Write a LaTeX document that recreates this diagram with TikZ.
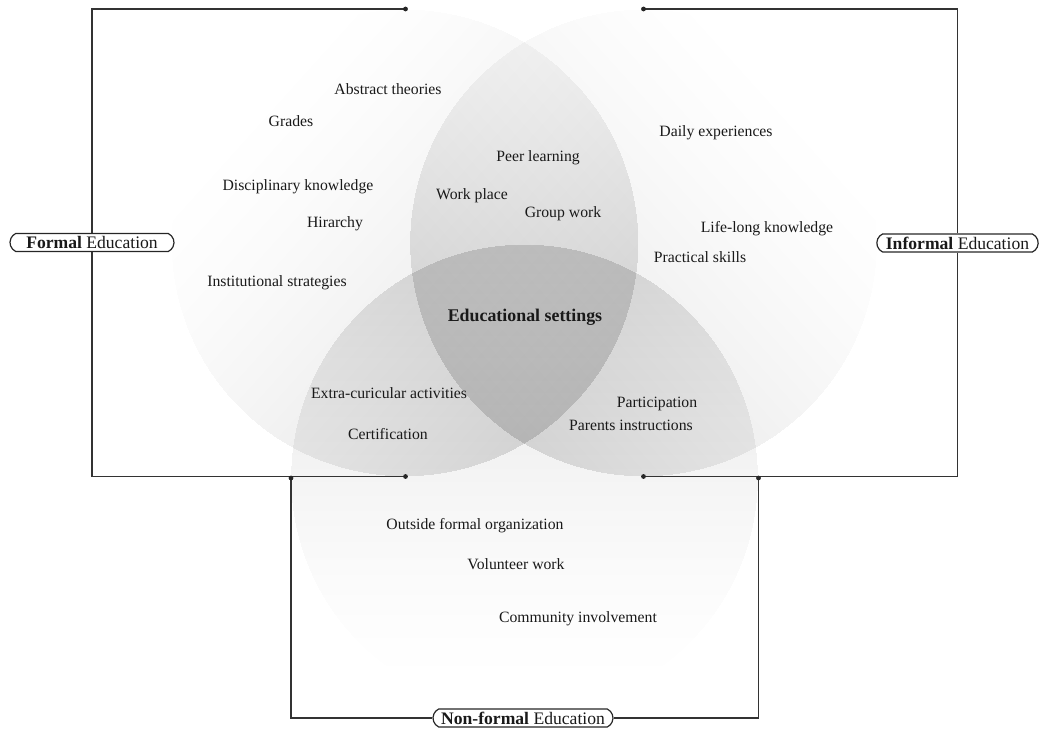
\documentclass[tikz,border=0pt]{standalone}
\usepackage{fontspec}
\setmainfont{Liberation Serif}
\usetikzlibrary{shapes.misc}

\begin{document}
\begin{tikzpicture}[x=0.75pt, y=0.75pt,
  item/.style={font=\fontsize{11.8}{13}\selectfont, text=black!90, inner sep=0pt, anchor=base, yshift=-3.4pt},
  keyitem/.style={font=\fontsize{13.4}{15}\selectfont\bfseries, text=black!90, inner sep=0pt, anchor=base, yshift=-3.8pt},
  setlabel/.style={draw=black!85, line width=0.9pt, rounded rectangle, rounded rectangle arc length=130,
                   minimum height=13.5pt, inner sep=0pt, text=black!90, font=\fontsize{13.2}{15}\selectfont},
  bracket/.style={draw=black!80, line width=0.9pt},
  dot/.style={circle, fill=black!85, inner sep=0pt, minimum size=3.6pt},
  veil/.style={fill=black, fill opacity=0.005}
]
\useasboundingbox (0,0) rectangle (1039,731);

% three shaded lobes: each disc is built from equal faint layers that all
% reach the inner side; their start lines crowd together towards the
% centre, so the grey builds up smoothly there
\foreach \cx/\cy/\ang in {405/488/-132, 643.5/488/132, 524.5/253/0} {
  \begin{scope}[shift={(\cx,\cy)}, rotate=\ang]
    \clip (0,0) circle[radius=175pt];
    \foreach \k in {1,...,31} {
      \pgfmathsetmacro\ys{-234+468*(\k/32)^(0.6667)}
      \fill[veil] (-240,\ys) rectangle (240,240);
    }
  \end{scope}
}

% set labels
\node[setlabel, minimum width=123pt] (formal) at (92,488.5) {\textbf{Formal} Education};
\node[setlabel, minimum width=121pt] (informal) at (957.5,488) {\textbf{Informal} Education};
\node[setlabel, minimum width=135pt] (nonformal) at (523,13) {\textbf{Non-formal} Education};

% bracket end points on the lobes
\coordinate (lt) at (405.5,722);
\coordinate (lb) at (405.5,254.5);
\coordinate (rt) at (643.5,722);
\coordinate (rb) at (643.5,254.5);
\coordinate (bl) at (291,253);
\coordinate (br) at (758.5,253);

% brackets
\draw[bracket] (lt) -| (formal.north);
\draw[bracket] (formal.south) |- (lb);
\draw[bracket] (rt) -| (informal.north);
\draw[bracket] (informal.south) |- (rb);
\draw[bracket] (bl) |- (nonformal.west);
\draw[bracket] (nonformal.east) -| (br);

\foreach \p in {lt,lb,rt,rb,bl,br} \node[dot] at (\p) {};

% formal only
\node[item] (t1) at (388,641) {Abstract theories};
\node[item] (t2) at (291,609) {Grades};
\node[item] (t3) at (298,545) {Disciplinary knowledge};
\node[item] (t4) at (335,508) {Hirarchy};
\node[item] (t5) at (277,449) {Institutional strategies};
% formal and informal
\node[item] (t6) at (538,574) {Peer learning};
\node[item] (t7) at (472,536) {Work place};
\node[item] (t8) at (563,518) {Group work};
% informal only
\node[item] (t9) at (716,599) {Daily experiences};
\node[item] (t10) at (767,503) {Life-long knowledge};
\node[item] (t11) at (700,473) {Practical skills};
% all three
\node[keyitem] (centre) at (525,415) {Educational settings};
% formal and non-formal
\node[item] (t12) at (389,337) {Extra-curicular activities};
\node[item] (t13) at (388,296) {Certification};
% informal and non-formal
\node[item] (t14) at (657,328) {Participation};
\node[item] (t15) at (631,305) {Parents instructions};
% non-formal only
\node[item] (t16) at (475,206) {Outside formal organization};
\node[item] (t17) at (516,166) {Volunteer work};
\node[item] (t18) at (578,113) {Community involvement};
\end{tikzpicture}
\end{document}
